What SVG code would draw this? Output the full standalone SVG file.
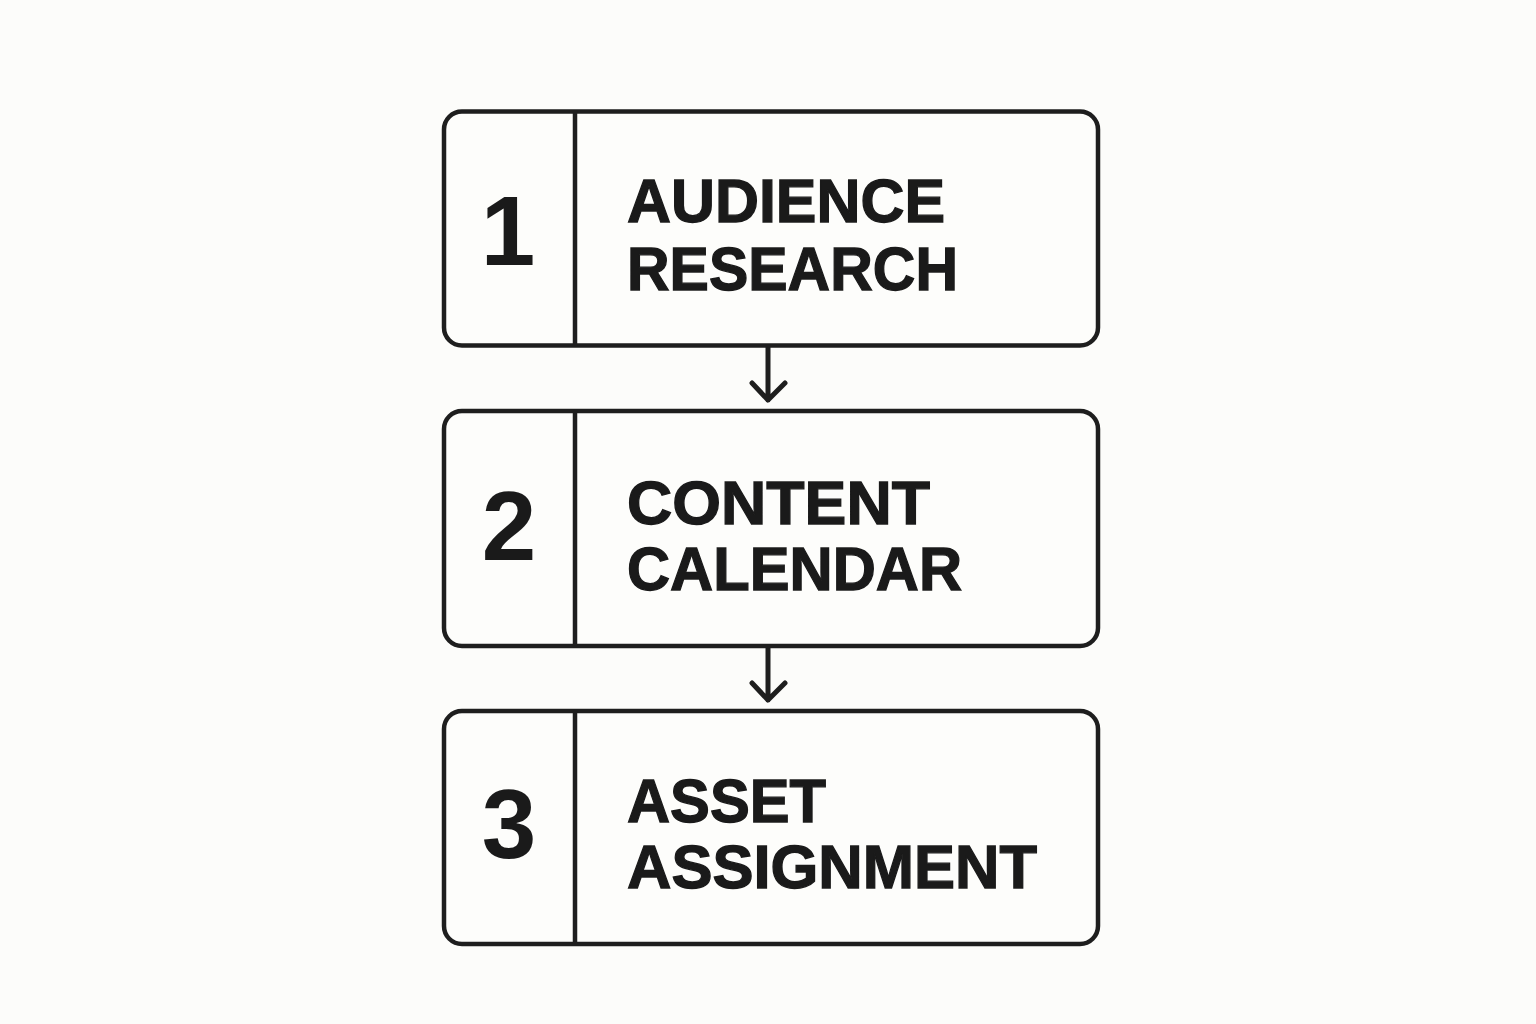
<svg xmlns="http://www.w3.org/2000/svg" width="1536" height="1024" viewBox="0 0 1536 1024">
<defs>
<style>
.box{fill:#fdfdfb;stroke:#1e1e1e;stroke-width:4.5}
.div{stroke:#1e1e1e;stroke-width:4.5}
.num{font-family:"Liberation Sans",Arial,sans-serif;font-weight:bold;font-size:98px;fill:#1a1a1a;text-anchor:middle}
.lbl{font-family:"Liberation Sans",Arial,sans-serif;font-weight:bold;font-size:62px;fill:#1a1a1a;stroke:#1a1a1a;stroke-width:1.3}
.con{fill:none;stroke:#1e1e1e;stroke-width:5;stroke-linecap:round;stroke-linejoin:round}
</style>
</defs>
<rect width="1536" height="1024" fill="#fcfcfa"/>
<g id="connectors">
<path class="con" d="M768 347V400M752 383L768 400L785 383"/>
<path class="con" d="M768 647V700M752 683L768 700L785 683"/>
</g>
<g id="step1">
<rect class="box" x="444" y="111.5" width="654" height="234" rx="18"/>
<line class="div" x1="575" y1="111.5" x2="575" y2="345.5"/>
<text class="num" x="508" y="265">1</text>
<text class="lbl" x="627" y="222" textLength="318" lengthAdjust="spacingAndGlyphs">AUDIENCE</text>
<text class="lbl" x="627" y="290" textLength="331" lengthAdjust="spacingAndGlyphs">RESEARCH</text>
</g>
<g id="step2">
<rect class="box" x="444" y="411" width="654" height="235" rx="18"/>
<line class="div" x1="575" y1="411" x2="575" y2="646"/>
<text class="num" x="509" y="560">2</text>
<text class="lbl" x="627" y="524" textLength="303" lengthAdjust="spacingAndGlyphs">CONTENT</text>
<text class="lbl" x="627" y="590" textLength="335" lengthAdjust="spacingAndGlyphs">CALENDAR</text>
</g>
<g id="step3">
<rect class="box" x="444" y="711" width="654" height="233" rx="18"/>
<line class="div" x1="575" y1="711" x2="575" y2="944"/>
<text class="num" x="509" y="858">3</text>
<text class="lbl" x="627" y="822" textLength="199" lengthAdjust="spacingAndGlyphs">ASSET</text>
<text class="lbl" x="627" y="888" textLength="410" lengthAdjust="spacingAndGlyphs">ASSIGNMENT</text>
</g>
</svg>
